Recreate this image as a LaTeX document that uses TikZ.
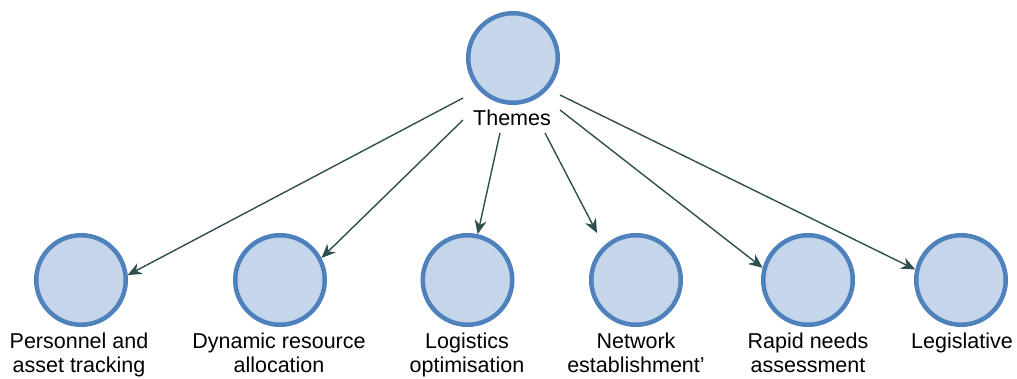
\documentclass[tikz,border=0pt]{standalone}
\usepackage{fontspec}
\setmainfont{Liberation Sans}
\usetikzlibrary{arrows.meta}
\definecolor{ringblue}{RGB}{79,129,189}
\definecolor{fillblue}{RGB}{198,214,234}
\definecolor{arrowgreen}{RGB}{47,79,79}
\tikzset{
  bubble/.style={circle, draw=ringblue, fill=fillblue, line width=4.5pt, minimum size=89.5pt, inner sep=0pt},
  lbl/.style={anchor=north, inner sep=0pt, align=center, text=black, font=\fontsize{21.5}{24}\selectfont},
  conn/.style={draw=arrowgreen, line width=1.4pt, -{Stealth[length=14pt,width=12pt]}}
}
\begin{document}
\begin{tikzpicture}[x=1pt,y=-1pt]
\useasboundingbox (0,0) rectangle (1017,379);
% top
\node[bubble] (top) at (513,58) {};
\node[lbl] (themes) at (512,110) {Themes};
% bottom circles
\node[bubble] (c1) at (81,280) {};
\node[bubble] (c2) at (280,280) {};
\node[bubble] (c3) at (467.5,280) {};
\node[bubble] (c4) at (636,280) {};
\node[bubble] (c5) at (808,280) {};
\node[bubble] (c6) at (961,280) {};
% labels
\node[lbl] (l1) at (79,333) {Personnel and\\asset tracking};
\node[lbl] (l2) at (279,333) {Dynamic resource\\allocation};
\node[lbl] (l3) at (467,333) {Logistics\\optimisation};
\node[lbl] (l4) at (636,333) {Network\\establishment'};
\node[lbl] (l5) at (808,333) {Rapid needs\\assessment};
\node[lbl] (l6) at (962,333) {Legislative};
% start points
\coordinate (s1) at (463,98);
\coordinate (s2) at (463,120);
\coordinate (s3) at (500,133);
\coordinate (s4) at (545,133);
\coordinate (s5) at (560,110);
\coordinate (s6) at (560,95);
\coordinate (e4) at ([xshift=-39pt]c4.north);
% connectors
\draw[conn] (s1) -- (c1.6);
\draw[conn] (s2) -- (c2.28);
\draw[conn] (s3) -- (c3);
\draw[conn] (s4) -- (e4);
\draw[conn] (s5) -- (c5.165);
\draw[conn] (s6) -- (c6.167);
\end{tikzpicture}
\end{document}
